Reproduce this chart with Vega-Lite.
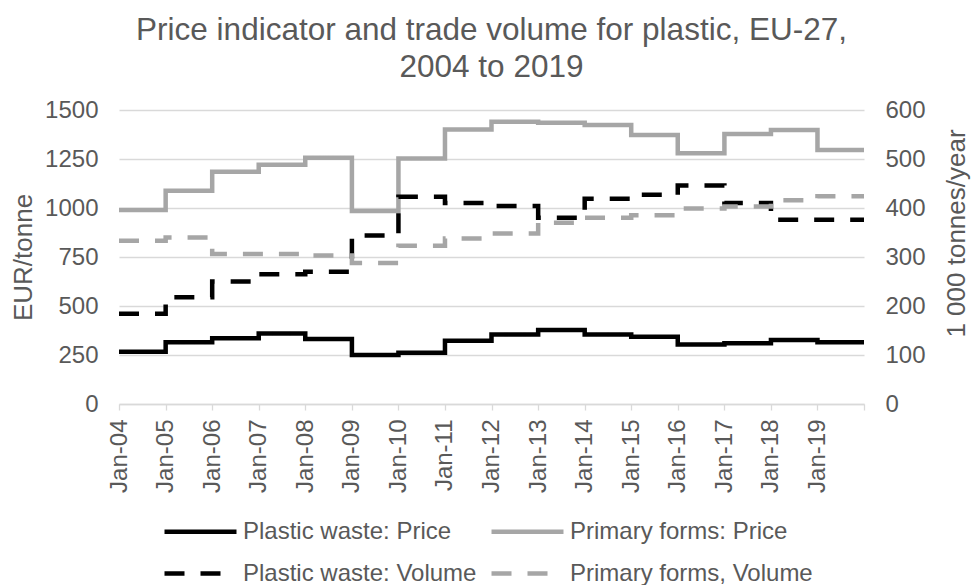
{
  "$schema": "https://vega.github.io/schema/vega-lite/v6.json",
  "width": 745,
  "height": 294,
  "autosize": {"type": "none"},
  "padding": {"left": 119, "top": 110, "right": 107, "bottom": 181},
  "background": "white",
  "title": {
    "text": ["Price indicator and trade volume for plastic, EU-27,", "2004 to 2019"],
    "font": "Liberation Sans",
    "fontSize": 31.5,
    "fontWeight": "normal",
    "color": "#595959",
    "anchor": "middle",
    "lineHeight": 37,
    "offset": 15
  },
  "config": {
    "view": {"stroke": null},
    "font": "Liberation Sans",
    "axis": {
      "labelFont": "Liberation Sans",
      "labelFontSize": 24,
      "labelColor": "#595959",
      "titleFont": "Liberation Sans",
      "titleFontSize": 26,
      "titleFontWeight": "normal",
      "titleColor": "#595959"
    }
  },
  "datasets": {
    "prices": [
      {"date": "2004-01-01", "series": "Plastic waste: Price", "eur": 267},
      {"date": "2005-01-01", "series": "Plastic waste: Price", "eur": 315},
      {"date": "2006-01-01", "series": "Plastic waste: Price", "eur": 335},
      {"date": "2007-01-01", "series": "Plastic waste: Price", "eur": 360},
      {"date": "2008-01-01", "series": "Plastic waste: Price", "eur": 332},
      {"date": "2009-01-01", "series": "Plastic waste: Price", "eur": 250},
      {"date": "2010-01-01", "series": "Plastic waste: Price", "eur": 262},
      {"date": "2011-01-01", "series": "Plastic waste: Price", "eur": 323},
      {"date": "2012-01-01", "series": "Plastic waste: Price", "eur": 355},
      {"date": "2013-01-01", "series": "Plastic waste: Price", "eur": 378},
      {"date": "2014-01-01", "series": "Plastic waste: Price", "eur": 355},
      {"date": "2015-01-01", "series": "Plastic waste: Price", "eur": 343},
      {"date": "2016-01-01", "series": "Plastic waste: Price", "eur": 304},
      {"date": "2017-01-01", "series": "Plastic waste: Price", "eur": 310},
      {"date": "2018-01-01", "series": "Plastic waste: Price", "eur": 327},
      {"date": "2019-01-01", "series": "Plastic waste: Price", "eur": 315},
      {"date": "2020-01-01", "series": "Plastic waste: Price", "eur": 315},
      {"date": "2004-01-01", "series": "Primary forms: Price", "eur": 990},
      {"date": "2005-01-01", "series": "Primary forms: Price", "eur": 1088},
      {"date": "2006-01-01", "series": "Primary forms: Price", "eur": 1185},
      {"date": "2007-01-01", "series": "Primary forms: Price", "eur": 1221},
      {"date": "2008-01-01", "series": "Primary forms: Price", "eur": 1257},
      {"date": "2009-01-01", "series": "Primary forms: Price", "eur": 985},
      {"date": "2010-01-01", "series": "Primary forms: Price", "eur": 1252},
      {"date": "2011-01-01", "series": "Primary forms: Price", "eur": 1401},
      {"date": "2012-01-01", "series": "Primary forms: Price", "eur": 1440},
      {"date": "2013-01-01", "series": "Primary forms: Price", "eur": 1435},
      {"date": "2014-01-01", "series": "Primary forms: Price", "eur": 1423},
      {"date": "2015-01-01", "series": "Primary forms: Price", "eur": 1372},
      {"date": "2016-01-01", "series": "Primary forms: Price", "eur": 1279},
      {"date": "2017-01-01", "series": "Primary forms: Price", "eur": 1378},
      {"date": "2018-01-01", "series": "Primary forms: Price", "eur": 1398},
      {"date": "2019-01-01", "series": "Primary forms: Price", "eur": 1296},
      {"date": "2020-01-01", "series": "Primary forms: Price", "eur": 1296}
    ],
    "volumes": [
      {"date": "2004-01-01", "series": "Plastic waste: Volume", "kt": 184},
      {"date": "2005-01-01", "series": "Plastic waste: Volume", "kt": 218},
      {"date": "2006-01-01", "series": "Plastic waste: Volume", "kt": 250},
      {"date": "2007-01-01", "series": "Plastic waste: Volume", "kt": 265},
      {"date": "2008-01-01", "series": "Plastic waste: Volume", "kt": 270},
      {"date": "2009-01-01", "series": "Plastic waste: Volume", "kt": 344},
      {"date": "2010-01-01", "series": "Plastic waste: Volume", "kt": 423},
      {"date": "2011-01-01", "series": "Plastic waste: Volume", "kt": 410},
      {"date": "2012-01-01", "series": "Plastic waste: Volume", "kt": 404},
      {"date": "2013-01-01", "series": "Plastic waste: Volume", "kt": 380},
      {"date": "2014-01-01", "series": "Plastic waste: Volume", "kt": 419},
      {"date": "2015-01-01", "series": "Plastic waste: Volume", "kt": 427},
      {"date": "2016-01-01", "series": "Plastic waste: Volume", "kt": 446},
      {"date": "2017-01-01", "series": "Plastic waste: Volume", "kt": 410},
      {"date": "2018-01-01", "series": "Plastic waste: Volume", "kt": 376},
      {"date": "2019-01-01", "series": "Plastic waste: Volume", "kt": 376},
      {"date": "2020-01-01", "series": "Plastic waste: Volume", "kt": 376},
      {"date": "2004-01-01", "series": "Primary forms, Volume", "kt": 333},
      {"date": "2005-01-01", "series": "Primary forms, Volume", "kt": 340},
      {"date": "2006-01-01", "series": "Primary forms, Volume", "kt": 306},
      {"date": "2007-01-01", "series": "Primary forms, Volume", "kt": 306},
      {"date": "2008-01-01", "series": "Primary forms, Volume", "kt": 303},
      {"date": "2009-01-01", "series": "Primary forms, Volume", "kt": 288},
      {"date": "2010-01-01", "series": "Primary forms, Volume", "kt": 323},
      {"date": "2011-01-01", "series": "Primary forms, Volume", "kt": 338},
      {"date": "2012-01-01", "series": "Primary forms, Volume", "kt": 348},
      {"date": "2013-01-01", "series": "Primary forms, Volume", "kt": 370},
      {"date": "2014-01-01", "series": "Primary forms, Volume", "kt": 380},
      {"date": "2015-01-01", "series": "Primary forms, Volume", "kt": 385},
      {"date": "2016-01-01", "series": "Primary forms, Volume", "kt": 399},
      {"date": "2017-01-01", "series": "Primary forms, Volume", "kt": 403},
      {"date": "2018-01-01", "series": "Primary forms, Volume", "kt": 416},
      {"date": "2019-01-01", "series": "Primary forms, Volume", "kt": 424},
      {"date": "2020-01-01", "series": "Primary forms, Volume", "kt": 424}
    ]
  },
  "encoding": {
    "x": {
      "field": "date",
      "type": "temporal",
      "scale": {"type": "utc", "domain": [{"year": 2004, "month": 1, "date": 1, "utc": true}, {"year": 2020, "month": 1, "date": 1, "utc": true}], "nice": false},
      "axis": {
        "title": null,
        "grid": false,
        "values": [
          {"year": 2004, "month": 1, "date": 1, "utc": true},
          {"year": 2005, "month": 1, "date": 1, "utc": true},
          {"year": 2006, "month": 1, "date": 1, "utc": true},
          {"year": 2007, "month": 1, "date": 1, "utc": true},
          {"year": 2008, "month": 1, "date": 1, "utc": true},
          {"year": 2009, "month": 1, "date": 1, "utc": true},
          {"year": 2010, "month": 1, "date": 1, "utc": true},
          {"year": 2011, "month": 1, "date": 1, "utc": true},
          {"year": 2012, "month": 1, "date": 1, "utc": true},
          {"year": 2013, "month": 1, "date": 1, "utc": true},
          {"year": 2014, "month": 1, "date": 1, "utc": true},
          {"year": 2015, "month": 1, "date": 1, "utc": true},
          {"year": 2016, "month": 1, "date": 1, "utc": true},
          {"year": 2017, "month": 1, "date": 1, "utc": true},
          {"year": 2018, "month": 1, "date": 1, "utc": true},
          {"year": 2019, "month": 1, "date": 1, "utc": true},
          {"year": 2020, "month": 1, "date": 1, "utc": true}
        ],
        "labelExpr": "utcyear(datum.value) >= 2020 ? '' : utcFormat(datum.value, '%b-%y')",
        "labelAngle": -90,
        "labelPadding": 9,
        "labelOverlap": false,
        "labelFlush": false,
        "tickSize": 6,
        "tickColor": "#d9d9d9",
        "tickWidth": 1.3,
        "domainColor": "#d9d9d9",
        "domainWidth": 1.3
      }
    }
  },
  "layer": [
    {
      "data": {"name": "prices"},
      "mark": {"type": "line", "interpolate": "step-after", "strokeWidth": 4.5, "strokeCap": "butt"},
      "encoding": {
        "y": {
          "field": "eur",
          "type": "quantitative",
          "scale": {"domain": [0, 1500], "nice": false},
          "axis": {
            "orient": "left",
            "values": [0, 250, 500, 750, 1000, 1250, 1500],
            "format": "d",
            "grid": true,
            "gridColor": "#d9d9d9",
            "gridWidth": 1.3,
            "domain": false,
            "ticks": false,
            "labelPadding": 21,
            "title": "EUR/tonne",
            "titleAngle": -90,
            "titleX": -96,
            "titleY": 147,
            "titleAlign": "center",
            "titleBaseline": "middle"
          }
        },
        "color": {
          "field": "series",
          "type": "nominal",
          "scale": {
            "domain": ["Plastic waste: Price", "Primary forms: Price", "Plastic waste: Volume", "Primary forms, Volume"],
            "range": ["#000000", "#a6a6a6", "#000000", "#a6a6a6"]
          },
          "legend": {
            "title": null,
            "orient": "none",
            "legendX": 67,
            "legendY": 407,
            "columns": 2,
            "direction": "horizontal",
            "symbolType": "M-3,0H3",
            "symbolSize": 576,
            "symbolStrokeWidth": 4.5,
            "labelOffset": 28,
            "labelFont": "Liberation Sans",
            "labelFontSize": 24,
            "labelColor": "#595959",
            "labelLimit": 0,
            "columnPadding": 5,
            "rowPadding": 15,
            "padding": 0
          }
        },
        "strokeDash": {
          "field": "series",
          "type": "nominal",
          "scale": {
            "domain": ["Plastic waste: Price", "Primary forms: Price", "Plastic waste: Volume", "Primary forms, Volume"],
            "range": [[1, 0], [1, 0], [20, 16], [20, 16]]
          },
          "legend": {
            "title": null,
            "orient": "none",
            "legendX": 67,
            "legendY": 407,
            "columns": 2,
            "direction": "horizontal",
            "symbolType": "M-3,0H3",
            "symbolSize": 576,
            "symbolStrokeWidth": 4.5,
            "labelOffset": 28,
            "labelFont": "Liberation Sans",
            "labelFontSize": 24,
            "labelColor": "#595959",
            "labelLimit": 0,
            "columnPadding": 5,
            "rowPadding": 15,
            "padding": 0
          }
        }
      }
    },
    {
      "data": {"name": "volumes"},
      "mark": {"type": "line", "interpolate": "step-after", "strokeWidth": 4.5, "strokeCap": "butt"},
      "encoding": {
        "y": {
          "field": "kt",
          "type": "quantitative",
          "scale": {"domain": [0, 600], "nice": false},
          "axis": {
            "orient": "right",
            "values": [0, 100, 200, 300, 400, 500, 600],
            "format": "d",
            "grid": false,
            "domain": false,
            "ticks": false,
            "labelPadding": 21,
            "title": "1 000 tonnes/year",
            "titleAngle": -90,
            "titleX": 92,
            "titleY": 123,
            "titleAlign": "center",
            "titleBaseline": "middle"
          }
        },
        "color": {
          "field": "series",
          "type": "nominal",
          "scale": {
            "domain": ["Plastic waste: Price", "Primary forms: Price", "Plastic waste: Volume", "Primary forms, Volume"],
            "range": ["#000000", "#a6a6a6", "#000000", "#a6a6a6"]
          }
        },
        "strokeDash": {
          "field": "series",
          "type": "nominal",
          "scale": {
            "domain": ["Plastic waste: Price", "Primary forms: Price", "Plastic waste: Volume", "Primary forms, Volume"],
            "range": [[1, 0], [1, 0], [20, 16], [20, 16]]
          }
        }
      }
    }
  ],
  "resolve": {"scale": {"y": "independent"}}
}
